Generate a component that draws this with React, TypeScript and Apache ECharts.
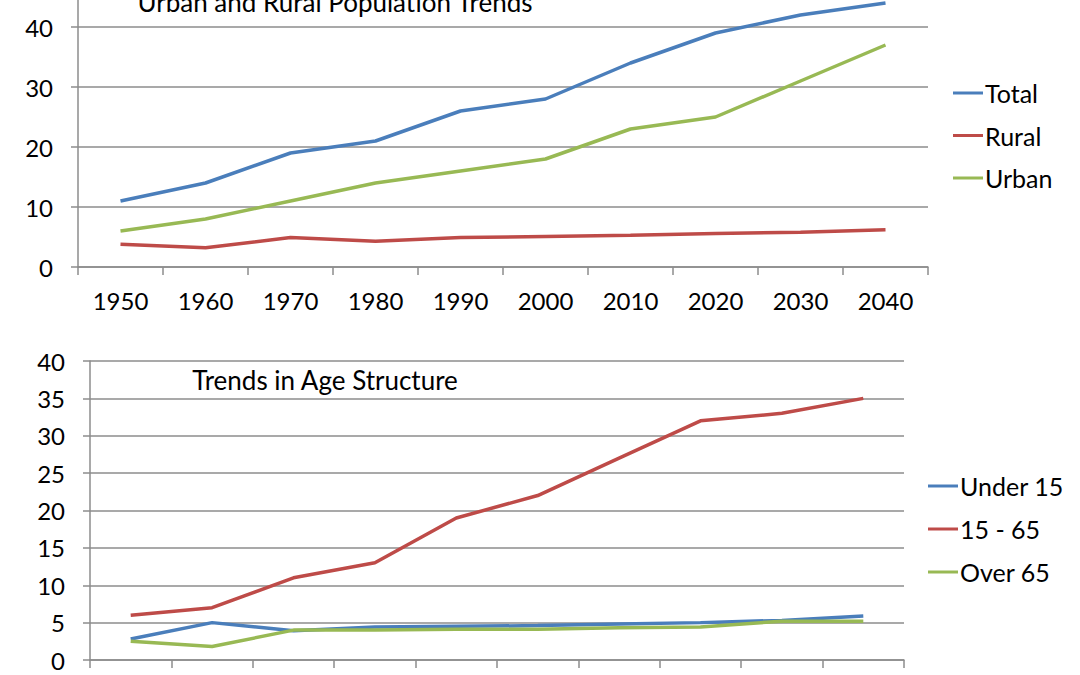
import React, { useEffect, useRef } from "react";
import * as echarts from "echarts";

const years = ["1950", "1960", "1970", "1980", "1990", "2000", "2010", "2020", "2030", "2040"];

const totalPop = [11, 14, 19, 21, 26, 28, 34, 39, 42, 44];
const ruralPop = [3.8, 3.2, 4.9, 4.3, 4.9, 5.1, 5.3, 5.6, 5.8, 6.2];
const urbanPop = [6, 8, 11, 14, 16, 18, 23, 25, 31, 37];

const under15 = [2.8, 5, 3.9, 4.4, 4.5, 4.6, 4.8, 5.0, 5.3, 5.9];
const age15to65 = [6, 7, 11, 13, 19, 22, 27, 32, 33, 35];
const over65 = [2.5, 1.8, 4, 4, 4.1, 4.1, 4.3, 4.4, 5.2, 5.2];

const BLUE = "#4A7EBB";
const RED = "#BE4B48";
const GREEN = "#98B954";
const GRID = "#8c8c8c";
const FONT = "Lato";
const OFF = 33; // the chart div starts 33px above the page top

export default function App() {
  const ref = useRef<HTMLDivElement>(null);
  useEffect(() => {
    if (!ref.current) return;
    const chart = echarts.init(ref.current, undefined, { renderer: "svg" });
    const axisText = { color: "#000", fontFamily: FONT, fontSize: 24 };
    const lineSeries = (name: string, data: number[], color: string, idx: number) => ({
      name,
      type: "line",
      xAxisIndex: idx,
      yAxisIndex: idx,
      data,
      symbol: "none",
      showSymbol: false,
      lineStyle: { color, width: 3.5 },
      itemStyle: { color },
    });
    const xAxisBase = (gridIndex: number, showLabel: boolean) => ({
      type: "category",
      gridIndex,
      data: years,
      boundaryGap: true,
      axisLine: { show: true, lineStyle: { color: GRID, width: 1.5 } },
      axisTick: { show: true, length: 8, inside: false, lineStyle: { color: GRID, width: 1.5 } },
      axisLabel: { show: showLabel, margin: 21, ...axisText },
      splitLine: { show: false },
    });
    const yAxisBase = (gridIndex: number, max: number, interval: number, showMax: boolean) => ({
      type: "value",
      gridIndex,
      min: 0,
      max,
      interval,
      axisLine: { show: true, lineStyle: { color: GRID, width: 1.5 } },
      axisTick: { show: true, length: 7, lineStyle: { color: GRID, width: 1.5 } },
      axisLabel: { margin: 25, showMaxLabel: showMax, ...axisText },
      splitLine: { show: true, lineStyle: { color: GRID, width: 1.5 } },
    });
    const legendText = { color: "#000", fontFamily: FONT, fontSize: 25, lineHeight: 28, padding: [0, 0, 0, -3] };
    chart.setOption({
      animation: false,
      backgroundColor: "#fff",
      title: [
        {
          text: "Urban and Rural Population Trends",
          left: 330,
          top: -16 + OFF,
          textAlign: "center",
          textStyle: { color: "#000", fontFamily: FONT, fontSize: 26, fontWeight: "normal" },
        },
        {
          text: "Trends in Age Structure",
          left: 320,
          top: 362 + OFF,
          textAlign: "center",
          textStyle: { color: "#000", fontFamily: FONT, fontSize: 26, fontWeight: "normal" },
        },
      ],
      legend: [
        {
          data: ["Total", "Rural", "Urban"],
          orient: "vertical",
          left: 953,
          top: 79 + OFF,
          padding: 0,
          icon: "rect",
          itemWidth: 30,
          itemHeight: 3,
          itemGap: 14.5,
          textStyle: legendText,
        },
        {
          data: ["Under 15", "15 - 65", "Over 65"],
          orient: "vertical",
          left: 928,
          top: 472 + OFF,
          padding: 0,
          icon: "rect",
          itemWidth: 30,
          itemHeight: 3,
          itemGap: 15,
          textStyle: legendText,
        },
      ],
      grid: [
        { left: 78, right: 1080 - 928, top: -33 + OFF, height: 300 },
        { left: 90, right: 1080 - 904, top: 361 + OFF, height: 299 },
      ],
      xAxis: [xAxisBase(0, true), xAxisBase(1, false)],
      yAxis: [yAxisBase(0, 50, 10, false), yAxisBase(1, 40, 5, true)],
      series: [
        lineSeries("Total", totalPop, BLUE, 0),
        lineSeries("Rural", ruralPop, RED, 0),
        lineSeries("Urban", urbanPop, GREEN, 0),
        lineSeries("Under 15", under15, BLUE, 1),
        lineSeries("15 - 65", age15to65, RED, 1),
        lineSeries("Over 65", over65, GREEN, 1),
      ],
    });
    return () => chart.dispose();
  }, []);
  return (
    <div style={{ position: "absolute", left: 0, top: 0, width: 1080, height: 675, overflow: "hidden" }}>
      <div
        ref={ref}
        style={{ width: 1080, height: 675 + OFF, position: "absolute", left: 0, top: -OFF }}
      />
    </div>
  );
}
